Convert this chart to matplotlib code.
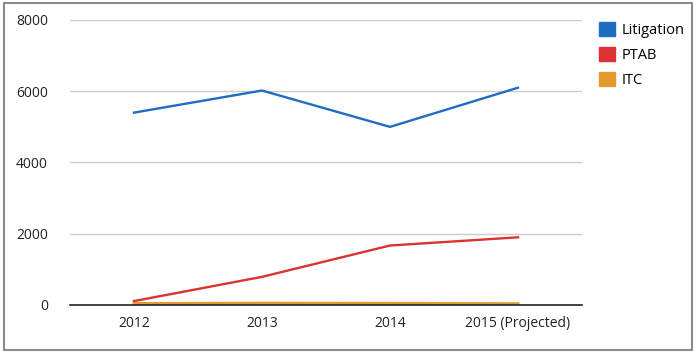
import numpy as np
import matplotlib.pyplot as plt
from matplotlib.patches import Patch, Rectangle

# --- data ---
years = ['2012', '2013', '2014', '2015 (Projected)']
litigation = [5400, 6020, 5000, 6100]
ptab = [110, 790, 1670, 1900]
itc = [40, 50, 45, 35]

c_lit = '#1f6dc3'
c_ptab = '#dc3232'
c_itc = '#e39b30'

plt.rcParams['font.family'] = ['Open Sans', 'DejaVu Sans']

fig = plt.figure(figsize=(6.97, 3.57), dpi=100)
ax = fig.add_axes([70 / 697, 1 - 305 / 357, 512 / 697, 285 / 357])

x = np.arange(len(years))
ax.plot(x, litigation, color=c_lit, lw=1.7)
ax.plot(x, ptab, color=c_ptab, lw=1.7)
ax.plot(x, itc, color=c_itc, lw=2.2)

ax.set_xlim(-0.5, 3.5)
ax.set_ylim(0, 8000)
ax.set_yticks([0, 2000, 4000, 6000, 8000])
ax.set_xticks(x)
ax.set_xticklabels(years)
ax.tick_params(length=0, labelsize=10, colors='#222222', pad=8)
ax.tick_params(axis='y', pad=16)
ax.grid(axis='y', color='#cccccc', lw=1)
ax.set_axisbelow(True)
for s in ['top', 'right', 'left']:
    ax.spines[s].set_visible(False)
ax.spines['bottom'].set_color('#222222')
ax.spines['bottom'].set_linewidth(1.2)
ax.spines['bottom'].set_zorder(5)

handles = [Patch(color=c_lit, label='Litigation'),
           Patch(color=c_ptab, label='PTAB'),
           Patch(color=c_itc, label='ITC')]
fig.legend(handles=handles, loc='upper left', bbox_to_anchor=(586 / 697, 1 - 9 / 357),
           frameon=False, handlelength=1.1, handleheight=1.1, handletextpad=0.45,
           labelspacing=0.6, fontsize=10.5)

# outer grey frame
fig.patches.append(Rectangle((4 / 697, 1 - 350 / 357), 688 / 697, 347 / 357,
                             transform=fig.transFigure, fill=False,
                             edgecolor='#8c8c8c', lw=1.5))

fig.savefig('out.png', dpi=100)
